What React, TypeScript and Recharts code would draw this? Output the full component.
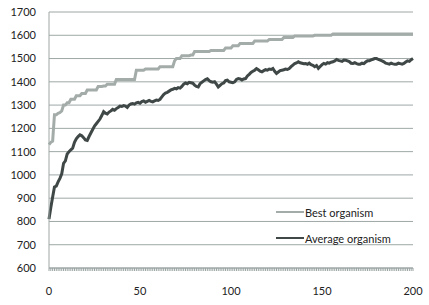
import React from 'react';
import { LineChart, Line, XAxis, YAxis, CartesianGrid } from 'recharts';

const generations: number[] = Array.from({ length: 201 }, (_, i) => i);

const bestOrganism: number[] = [
  1130, 1140, 1145, 1258, 1258, 1265, 1268, 1275, 1300, 1300,
  1310, 1310, 1325, 1325, 1325, 1340, 1340, 1340, 1350, 1350,
  1350, 1365, 1365, 1365, 1365, 1365, 1365, 1380, 1380, 1380,
  1382, 1382, 1390, 1390, 1390, 1390, 1390, 1410, 1410, 1410,
  1410, 1410, 1410, 1410, 1410, 1410, 1410, 1410, 1450, 1450,
  1450, 1450, 1450, 1455, 1455, 1455, 1455, 1455, 1455, 1455,
  1455, 1465, 1465, 1465, 1465, 1465, 1465, 1465, 1465, 1490,
  1500, 1500, 1500, 1512, 1512, 1512, 1512, 1512, 1515, 1515,
  1530, 1530, 1530, 1530, 1530, 1530, 1530, 1530, 1530, 1535,
  1535, 1535, 1535, 1535, 1535, 1535, 1535, 1545, 1545, 1545,
  1545, 1555, 1555, 1555, 1555, 1565, 1565, 1565, 1565, 1565,
  1565, 1565, 1565, 1575, 1575, 1575, 1575, 1575, 1575, 1575,
  1575, 1582, 1582, 1582, 1582, 1582, 1582, 1582, 1582, 1590,
  1590, 1590, 1590, 1590, 1590, 1597, 1597, 1597, 1597, 1597,
  1597, 1597, 1597, 1597, 1597, 1597, 1600, 1600, 1600, 1600,
  1600, 1600, 1600, 1600, 1600, 1600, 1605, 1605, 1605, 1605,
  1605, 1605, 1605, 1605, 1605, 1605, 1605, 1605, 1605, 1605,
  1605, 1605, 1605, 1605, 1605, 1605, 1605, 1605, 1605, 1605,
  1605, 1605, 1605, 1605, 1605, 1605, 1605, 1605, 1605, 1605,
  1605, 1605, 1605, 1605, 1605, 1605, 1605, 1605, 1605, 1605,
  1605,
];

const averageOrganism: number[] = [
  810, 860, 905, 948, 952, 970, 985, 1005, 1050, 1060,
  1090, 1100, 1108, 1115, 1140, 1155, 1165, 1172, 1168, 1160,
  1150, 1148, 1165, 1180, 1195, 1210, 1220, 1230, 1240, 1255,
  1272, 1265, 1262, 1270, 1275, 1282, 1278, 1285, 1290, 1296,
  1294, 1298, 1296, 1290, 1300, 1305, 1307, 1304, 1310, 1312,
  1308, 1315, 1318, 1312, 1316, 1320, 1316, 1314, 1318, 1322,
  1320, 1325, 1335, 1345, 1352, 1355, 1360, 1365, 1368, 1372,
  1370, 1375, 1373, 1380, 1390, 1395, 1392, 1398, 1396, 1394,
  1386, 1380, 1378, 1392, 1398, 1404, 1410, 1413, 1405, 1400,
  1398, 1400, 1390, 1378, 1385, 1392, 1395, 1405, 1407, 1400,
  1398, 1396, 1400, 1410, 1414, 1412, 1408, 1412, 1414, 1425,
  1432, 1440, 1445, 1450, 1457, 1452, 1446, 1443, 1448, 1452,
  1450, 1455, 1453, 1457, 1445, 1436, 1442, 1448, 1450, 1452,
  1455, 1453, 1457, 1465, 1472, 1478, 1481, 1486, 1482, 1480,
  1478, 1479, 1475, 1480, 1474, 1471, 1465, 1470, 1458, 1466,
  1474, 1479, 1476, 1482, 1480, 1484, 1486, 1490, 1496, 1492,
  1490, 1488, 1494, 1493, 1490, 1487, 1480, 1479, 1482, 1478,
  1476, 1476, 1480, 1478, 1485, 1490, 1490, 1494, 1497, 1500,
  1500, 1496, 1493, 1490, 1486, 1480, 1478, 1476, 1480, 1477,
  1476, 1476, 1480, 1478, 1476, 1479, 1485, 1490, 1488, 1495,
  1500,
];

const yTicks: number[] = [600, 700, 800, 900, 1000, 1100, 1200, 1300, 1400, 1500, 1600, 1700];
const xLabels: number[] = [0, 50, 100, 150, 200];
const seriesNames: string[] = ['Best organism', 'Average organism'];

const data = generations.map((g, i) => ({
  gen: g,
  best: bestOrganism[i],
  average: averageOrganism[i],
}));

const FONT = 'Lato, "DejaVu Sans", sans-serif';
const BEST_COLOR = '#a4aca9';
const AVG_COLOR = '#3f4846';

function XTick(props: any) {
  const { x, y, payload } = props;
  const showLabel = xLabels.includes(payload.value);
  return (
    <g>
      <line x1={x} y1={y - 4} x2={x} y2={y - 1} stroke="#9aa4a2" strokeWidth={1} />
      {showLabel && (
        <text x={x} y={y + 23} textAnchor="middle" fontSize={11} fontFamily={FONT} fill="#222">
          {payload.value}
        </text>
      )}
    </g>
  );
}

function LegendBox() {
  const colors = [BEST_COLOR, AVG_COLOR];
  return (
    <div
      style={{
        position: 'absolute',
        left: 276,
        top: 199,
        fontFamily: FONT,
        fontSize: 11,
        color: '#222',
      }}
    >
      {seriesNames.map((name, i) => (
        <div key={name} style={{ display: 'flex', alignItems: 'center', height: 26 }}>
          <svg width={28} height={4} style={{ marginRight: 1 }}>
            <line x1={0} y1={2} x2={28} y2={2} stroke={colors[i]} strokeWidth={2} />
          </svg>
          <span>{name}</span>
        </div>
      ))}
    </div>
  );
}

export default function App() {
  return (
    <div style={{ position: 'absolute', left: 0, top: 0, width: 429, height: 305, background: '#fff' }}>
      <LineChart width={429} height={305} data={data} margin={{ top: 12, right: 16, bottom: 0, left: 0 }}>
        <CartesianGrid vertical={false} stroke="#9ea8a6" strokeWidth={1} />
        <XAxis
          dataKey="gen"
          type="number"
          domain={[0, 200]}
          ticks={generations}
          interval={0}
          tick={<XTick />}
          tickLine={false}
          axisLine={{ stroke: '#9ea8a6' }}
          tickSize={4}
          tickMargin={0}
          height={37}
        />
        <YAxis
          domain={[600, 1700]}
          ticks={yTicks}
          interval={0}
          width={49}
          tickLine={false}
          tickSize={0}
          tickMargin={13}
          axisLine={{ stroke: '#9ea8a6' }}
          tick={{ fontSize: 11, fontFamily: FONT, fill: '#222' }}
        />
        <Line
          type="linear"
          dataKey="best"
          name={seriesNames[0]}
          stroke={BEST_COLOR}
          strokeWidth={3}
          dot={false}
          isAnimationActive={false}
        />
        <Line
          type="linear"
          dataKey="average"
          name={seriesNames[1]}
          stroke={AVG_COLOR}
          strokeWidth={3}
          dot={false}
          isAnimationActive={false}
        />
      </LineChart>
      <LegendBox />
    </div>
  );
}
